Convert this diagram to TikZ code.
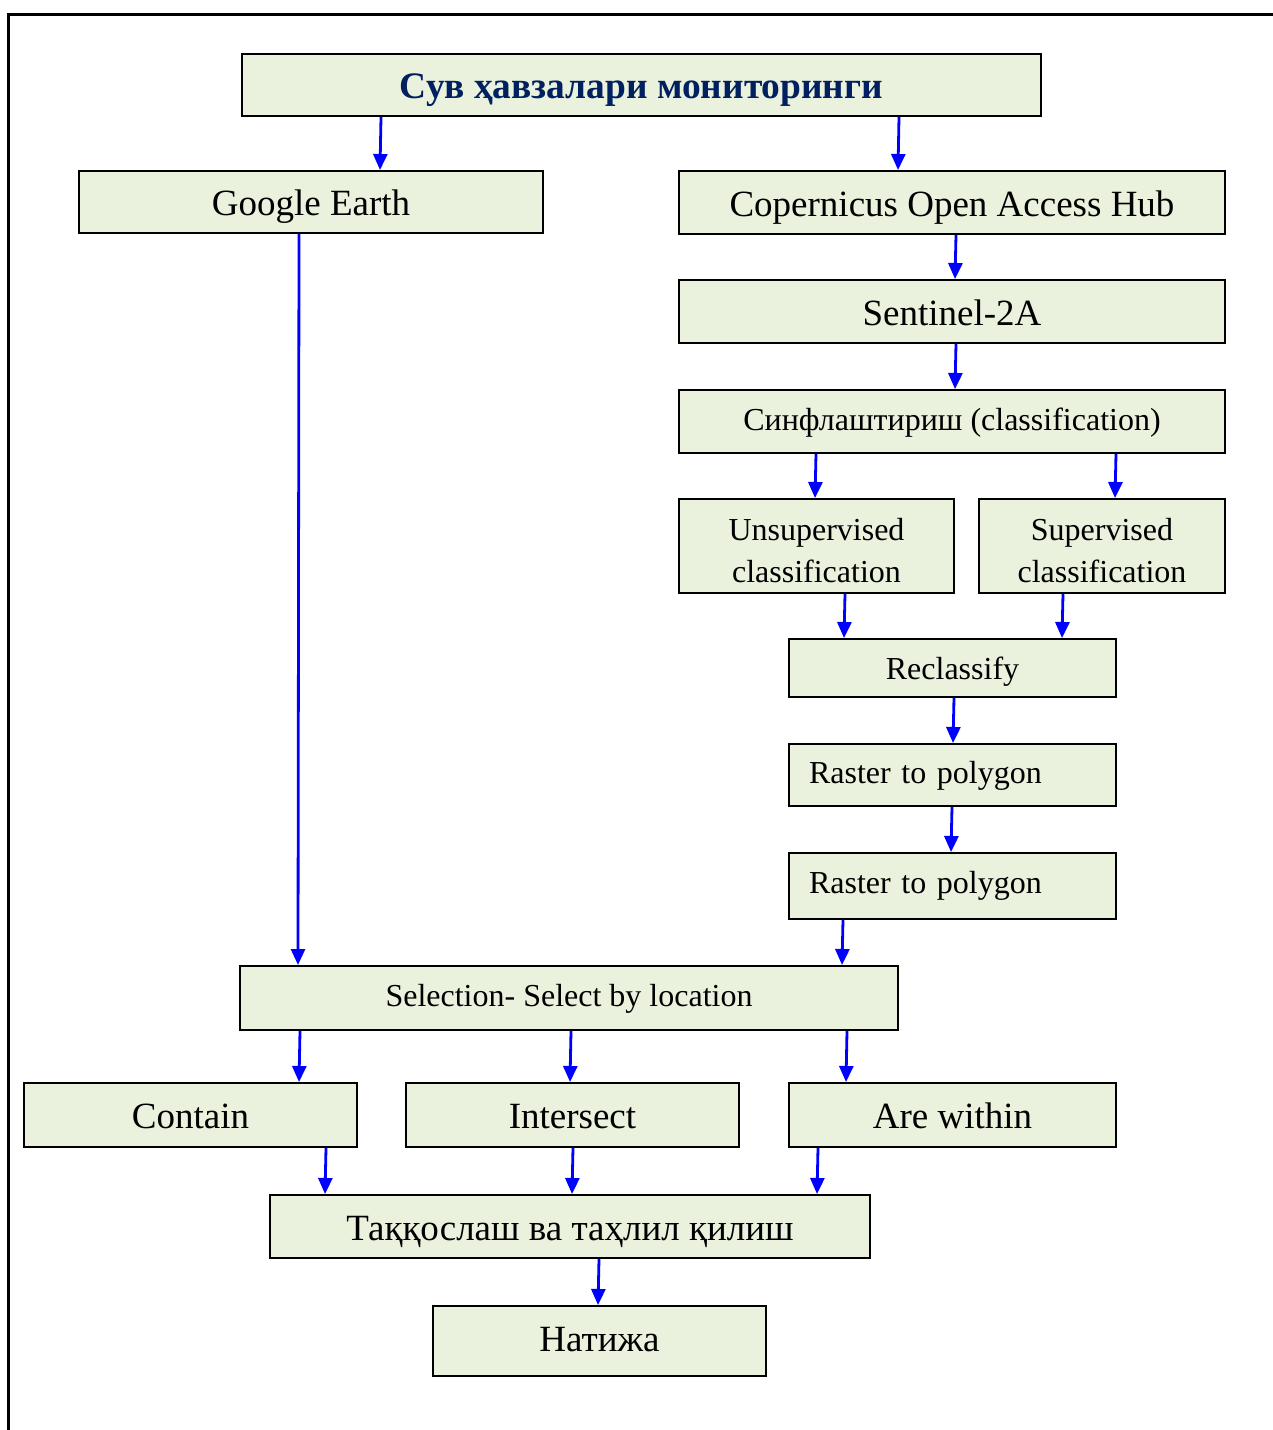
\documentclass[tikz,border=0pt]{standalone}
\usepackage{fontspec}
\setmainfont{Liberation Serif}
\usetikzlibrary{arrows.meta}
\definecolor{boxfill}{HTML}{EAF1DD}
\definecolor{navy}{RGB}{0,32,96}
\begin{document}
\begin{tikzpicture}[x=0.5pt, y=-0.5pt,
	box/.style = {draw, line width=1pt, fill=boxfill, inner sep=0pt, text height=13.5pt, text depth=0pt, font=\fontsize{18.5}{22}\selectfont},
	small/.style = {font=\fontsize{16}{21}\selectfont, text height=8.5pt},
	arr/.style = {blue, line width=1.4pt, -{Triangle[length=8pt, width=7pt]}},
	frame/.style = {line width=1.5pt}]
	\useasboundingbox (0,0) rectangle (1273,1430);
	% Ramka
	\draw[frame] (1273,14) -- (8,14) -- (8,1430);
	% Bloklar
	\node[box, minimum width=399.5pt, minimum height=31pt, text=navy, font=\fontsize{18.7}{22}\selectfont\bfseries] (title) at (641.5,85) {Сув ҳавзалари мониторинги};
	\node[box, minimum width=232pt, minimum height=31pt] (google) at (311,202) {Google Earth};
	\node[box, minimum width=273pt, minimum height=31.5pt] (cop) at (952,202.5) {Copernicus Open Access Hub};
	\node[box, minimum width=273pt, minimum height=31.5pt] (sentinel) at (952,311.5) {Sentinel-2A};
	\node[box, small, minimum width=273pt, minimum height=31.5pt] (sinf) at (952,421.5) {Синфлаштириш (classification)};
	\node[box, small, minimum width=137.5pt, minimum height=47pt, align=center, text height=41.5pt, text depth=5.5pt] (unsup) at (816.5,546) {Unsupervised\\classification};
	\node[box, small, minimum width=123pt, minimum height=47pt, align=center, text height=41.5pt, text depth=5.5pt] (sup) at (1102,546) {Supervised\\classification};
	\node[box, small, minimum width=163.5pt, minimum height=29pt, text height=11pt] (reclass) at (952.5,668) {Reclassify};
	\node[box, small, minimum width=163.5pt, minimum height=31pt, text width=143.5pt, inner xsep=10pt, align=left, text height=8pt] (raster1) at (952.5,775) {Raster to polygon};
	\node[box, small, minimum width=163.5pt, minimum height=33pt, text width=143.5pt, inner xsep=10pt, align=left, text height=7pt] (raster2) at (952.5,886) {Raster to polygon};
	\node[box, small, minimum width=329pt, minimum height=32pt, text height=8pt] (select) at (569,998) {Selection- Select by location};
	\node[box, minimum width=166.5pt, minimum height=32pt, text height=13pt] (contain) at (190.5,1115) {Contain};
	\node[box, minimum width=166.5pt, minimum height=32pt, text height=13pt] (intersect) at (572.5,1115) {Intersect};
	\node[box, minimum width=163.5pt, minimum height=32pt, text height=13pt] (within) at (952.5,1115) {Are within};
	\node[box, minimum width=300pt, minimum height=31.5pt] (compare) at (570,1226.5) {Таққослаш ва таҳлил қилиш};
	\node[box, minimum width=166.5pt, minimum height=35pt, text height=10pt] (result) at (599.5,1341) {Натижа};
	% Strelkalar
	\draw[arr] (title.south -| 381,0) -- (google.north -| 380,0);
	\draw[arr] (title.south -| 899,0) -- (cop.north -| 898,0);
	\draw[arr] (google.south -| 299,0) -- (select.north -| 298,0);
	\draw[arr] (cop.south -| 956,0) -- (sentinel.north -| 955,0);
	\draw[arr] (sentinel.south -| 956,0) -- (sinf.north -| 955,0);
	\draw[arr] (sinf.south -| 816,0) -- (unsup.north -| 815,0);
	\draw[arr] (sinf.south -| 1116,0) -- (sup.north -| 1115,0);
	\draw[arr] (unsup.south -| 845,0) -- (reclass.north -| 844,0);
	\draw[arr] (sup.south -| 1063,0) -- (reclass.north -| 1062,0);
	\draw[arr] (reclass.south -| 954,0) -- (raster1.north -| 953,0);
	\draw[arr] (raster1.south -| 952,0) -- (raster2.north -| 951,0);
	\draw[arr] (raster2.south -| 843,0) -- (select.north -| 842,0);
	\draw[arr] (select.south -| 300,0) -- (contain.north -| 299,0);
	\draw[arr] (select.south -| 571,0) -- (intersect.north -| 570,0);
	\draw[arr] (select.south -| 847,0) -- (within.north -| 846,0);
	\draw[arr] (contain.south -| 326,0) -- (compare.north -| 325,0);
	\draw[arr] (intersect.south -| 573,0) -- (compare.north -| 572,0);
	\draw[arr] (within.south -| 818,0) -- (compare.north -| 817,0);
	\draw[arr] (compare.south -| 599,0) -- (result.north -| 598,0);
\end{tikzpicture}
\end{document}
